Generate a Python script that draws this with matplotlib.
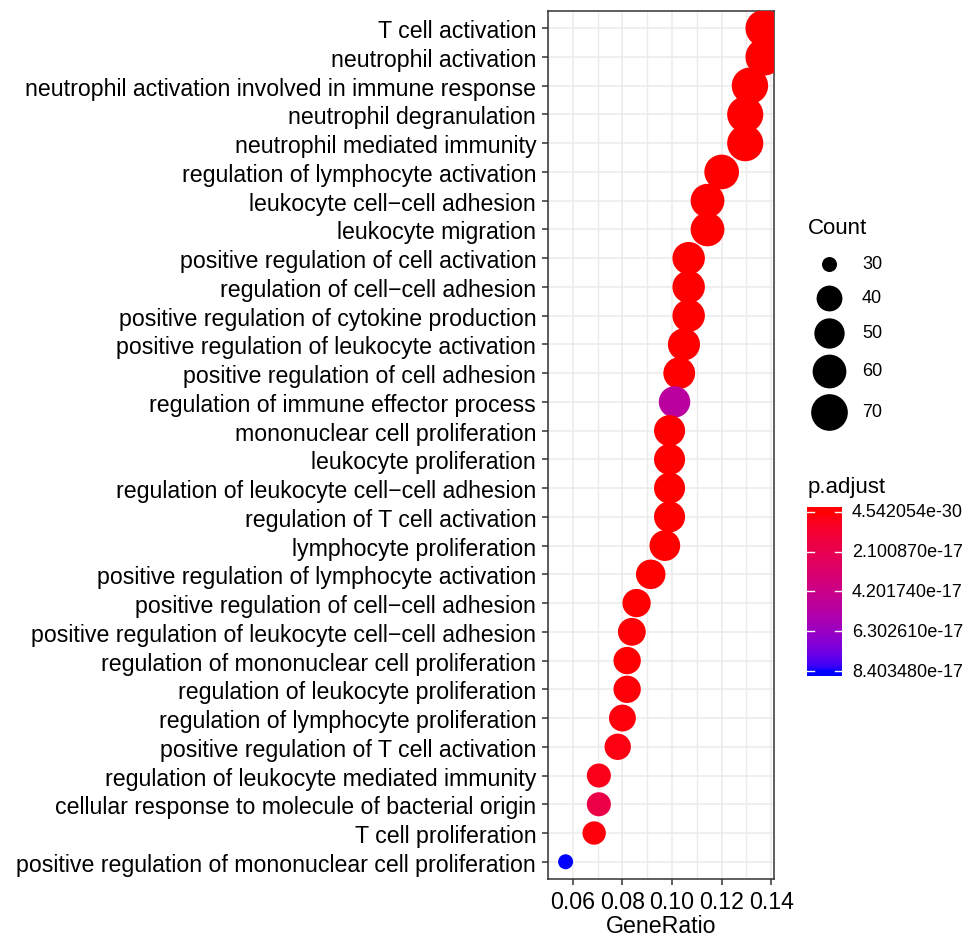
import numpy as np
import matplotlib
matplotlib.use("Agg")
import matplotlib.pyplot as plt
from matplotlib.colors import ListedColormap, Normalize

plt.rcParams['font.family'] = ['Liberation Sans', 'DejaVu Sans']

# ---------------- data ----------------
terms = [
    "T cell activation",
    "neutrophil activation",
    "neutrophil activation involved in immune response",
    "neutrophil degranulation",
    "neutrophil mediated immunity",
    "regulation of lymphocyte activation",
    "leukocyte cell\u2212cell adhesion",
    "leukocyte migration",
    "positive regulation of cell activation",
    "regulation of cell\u2212cell adhesion",
    "positive regulation of cytokine production",
    "positive regulation of leukocyte activation",
    "positive regulation of cell adhesion",
    "regulation of immune effector process",
    "mononuclear cell proliferation",
    "leukocyte proliferation",
    "regulation of leukocyte cell\u2212cell adhesion",
    "regulation of T cell activation",
    "lymphocyte proliferation",
    "positive regulation of lymphocyte activation",
    "positive regulation of cell\u2212cell adhesion",
    "positive regulation of leukocyte cell\u2212cell adhesion",
    "regulation of mononuclear cell proliferation",
    "regulation of leukocyte proliferation",
    "regulation of lymphocyte proliferation",
    "positive regulation of T cell activation",
    "regulation of leukocyte mediated immunity",
    "cellular response to molecule of bacterial origin",
    "T cell proliferation",
    "positive regulation of mononuclear cell proliferation",
]
gene_ratio = [0.1371, 0.1371, 0.1314, 0.1295, 0.1295, 0.1200, 0.1143, 0.1143,
              0.1067, 0.1067, 0.1067, 0.1048, 0.1029, 0.1010, 0.0990, 0.0990,
              0.0990, 0.0990, 0.0971, 0.0914, 0.0857, 0.0838, 0.0819, 0.0819,
              0.0800, 0.0781, 0.0705, 0.0705, 0.0686, 0.0571]
counts = [72, 72, 69, 68, 68, 63, 60, 60, 56, 56, 56, 55, 54, 53, 52, 52,
          52, 52, 51, 48, 45, 44, 43, 43, 42, 41, 37, 37, 36, 30]
p_adjust = [4.542054e-30, 1.2e-27, 3.5e-26, 6.1e-26, 2.3e-25, 1.5e-24, 8.0e-24,
            2.1e-21, 3.4e-22, 9.5e-22, 4.7e-21, 6.3e-22, 1.1e-20, 5.0e-17,
            2.6e-21, 3.0e-21, 5.5e-21, 7.2e-21, 8.4e-21, 2.2e-19, 4.0e-19,
            9.1e-19, 6.5e-19, 1.3e-18, 1.8e-18, 2.6e-18, 4.0e-18, 1.85e-17,
            1.5e-18, 8.403480e-17]
size_breaks = [30, 40, 50, 60, 70]
color_breaks = [4.542054e-30, 2.100870e-17, 4.201740e-17, 6.302610e-17, 8.403480e-17]
color_labels = ["4.542054e-30", "2.100870e-17", "4.201740e-17", "6.302610e-17", "8.403480e-17"]

# ---------------- helpers ----------------
W, H, DPI = 977, 937, 100
PX2PT = 72.0 / DPI


def srgb_to_lab(rgb):
    rgb = np.asarray(rgb, float)
    lin = np.where(rgb <= 0.04045, rgb / 12.92, ((rgb + 0.055) / 1.055) ** 2.4)
    M = np.array([[0.4124564, 0.3575761, 0.1804375],
                  [0.2126729, 0.7151522, 0.0721750],
                  [0.0193339, 0.1191920, 0.9503041]])
    xyz = M @ lin
    wp = np.array([0.95047, 1.0, 1.08883])
    t = xyz / wp
    f = np.where(t > (6 / 29) ** 3, np.cbrt(t), t / (3 * (6 / 29) ** 2) + 4 / 29)
    return np.array([116 * f[1] - 16, 500 * (f[0] - f[1]), 200 * (f[1] - f[2])])


def lab_to_srgb(lab):
    L, a, b = lab
    fy = (L + 16) / 116
    fx = fy + a / 500
    fz = fy - b / 200
    f = np.array([fx, fy, fz])
    t = np.where(f > 6 / 29, f ** 3, 3 * (6 / 29) ** 2 * (f - 4 / 29))
    xyz = t * np.array([0.95047, 1.0, 1.08883])
    Minv = np.array([[3.2404542, -1.5371385, -0.4985314],
                     [-0.9692660, 1.8760108, 0.0415560],
                     [0.0556434, -0.2040259, 1.0572252]])
    lin = Minv @ xyz
    lin = np.clip(lin, 0, 1)
    rgb = np.where(lin <= 0.0031308, 12.92 * lin, 1.055 * lin ** (1 / 2.4) - 0.055)
    return np.clip(rgb, 0, 1)


lab_lo = srgb_to_lab([1, 0, 0])
lab_hi = srgb_to_lab([0, 0, 1])
ramp = [lab_to_srgb(lab_lo + (lab_hi - lab_lo) * t) for t in np.linspace(0, 1, 256)]
cmap = ListedColormap(ramp)
vmin, vmax = min(p_adjust), max(p_adjust)
norm = Normalize(vmin, vmax)

cmin, cmax = min(counts), max(counts)


def size_px(c):
    c = np.asarray(c, float)
    return 15.0 + 22.2 * np.sqrt(np.clip((c - cmin) / (cmax - cmin), 0, None))


def size_s(c):
    return (size_px(c) * PX2PT) ** 2

# ---------------- figure ----------------
FS = 16.7
fig = plt.figure(figsize=(W / DPI, H / DPI), dpi=DPI)
fig.patch.set_facecolor("white")

left, right, top, bottom = 548, 774, 12, 880
ax = fig.add_axes([left / W, 1 - bottom / H, (right - left) / W, (bottom - top) / H])

y = np.arange(len(terms))
ax.scatter(gene_ratio, y, s=size_s(counts), c=p_adjust, cmap=cmap, norm=norm,
           linewidths=0, zorder=3, clip_on=True)

xr = max(gene_ratio) - min(gene_ratio)
ax.set_xlim(min(gene_ratio) - 0.05 * xr, max(gene_ratio) + 0.05 * xr)
ax.set_ylim(len(terms) - 1 + 0.6, -0.6)
ax.set_xticks([0.06, 0.08, 0.10, 0.12, 0.14])
ax.set_xticklabels(["0.06", "0.08", "0.10", "0.12", "0.14"])
ax.set_xticks([0.05, 0.07, 0.09, 0.11, 0.13], minor=True)
ax.set_yticks(y)
ax.set_yticklabels(terms)

ax.grid(True, which="major", color="#EBEBEB", linewidth=1.1, zorder=0)
ax.grid(True, which="minor", axis="x", color="#EBEBEB", linewidth=1.0, zorder=0)
ax.set_axisbelow(True)
ax.tick_params(axis="y", which="major", length=4, width=1.1, color="#333333",
               labelsize=FS, labelcolor="black", pad=4.5)
ax.tick_params(axis="x", which="major", length=4, width=1.1, color="#333333",
               labelsize=FS, labelcolor="black", pad=4)
ax.tick_params(axis="x", which="minor", length=0)
for sp in ax.spines.values():
    sp.set_color("#333333")
    sp.set_linewidth(1.1)
ax.set_xlabel("GeneRatio", fontsize=FS, labelpad=1)

# ---------------- overlay for legends (pixel coordinates) ----------------
ov = fig.add_axes([0, 0, 1, 1], zorder=5)
ov.set_xlim(0, W)
ov.set_ylim(H, 0)
ov.axis("off")

ov.text(808, 228, "Count", fontsize=16, ha="left", va="center")
leg_y = [265, 299, 334, 372, 413]
for c, yy in zip(size_breaks, leg_y):
    ov.scatter([829], [yy], s=size_s(c), color="black", linewidths=0)
    ov.text(862, yy, str(c), fontsize=13, ha="left", va="center")

ov.text(808, 488, "p.adjust", fontsize=16, ha="left", va="center")

# colorbar
cb_left, cb_right, cb_top, cb_bot = 807, 842, 508, 677
cax = fig.add_axes([cb_left / W, 1 - cb_bot / H, (cb_right - cb_left) / W, (cb_bot - cb_top) / H], zorder=6)
ext = 0.031 * (vmax - vmin)
grad = np.linspace(vmin - ext, vmax + ext, 300).reshape(-1, 1)
cax.imshow(grad, cmap=cmap, norm=norm, aspect="auto",
           extent=[0, 1, vmax + ext, vmin - ext], interpolation="bilinear")
cax.set_xlim(0, 1)
cax.set_ylim(vmax + ext, vmin - ext)
cax.set_xticks([])
cax.set_yticks([])
for sp in cax.spines.values():
    sp.set_visible(False)
for v, lab in zip(color_breaks, color_labels):
    cax.plot([0, 0.2], [v, v], color="white", linewidth=1.0)
    cax.plot([0.8, 1.0], [v, v], color="white", linewidth=1.0)
    cax.text(1.28, v, lab, fontsize=13, ha="left", va="center",
             transform=cax.get_yaxis_transform())

fig.savefig("out.png", dpi=DPI)
